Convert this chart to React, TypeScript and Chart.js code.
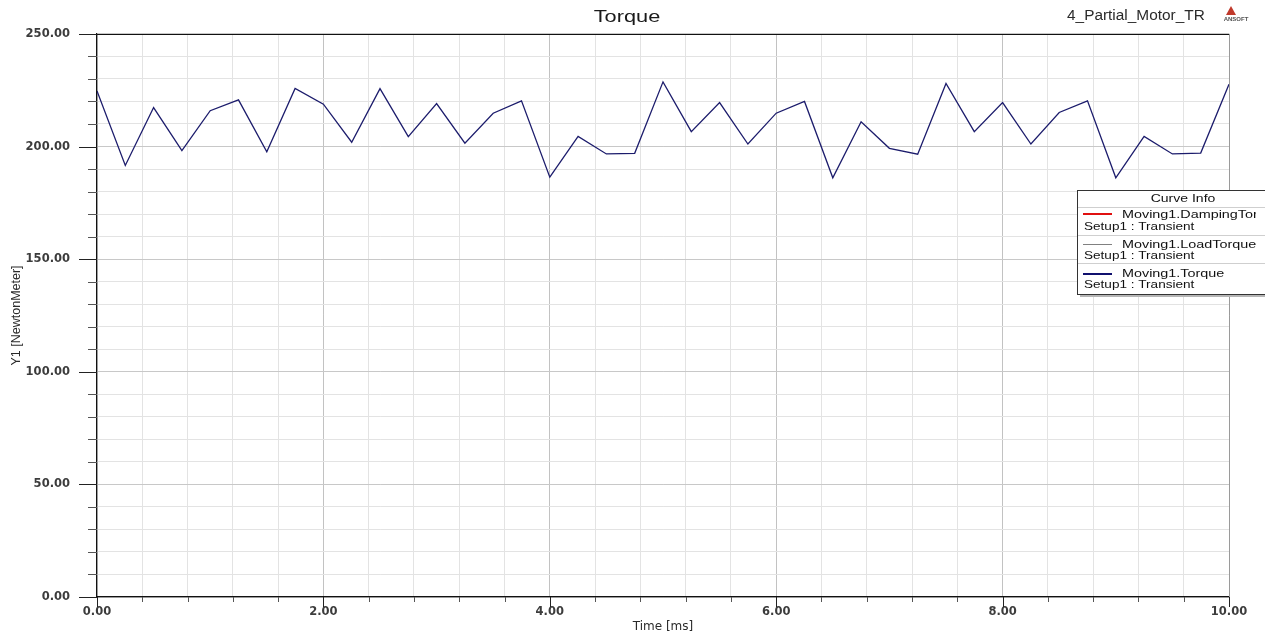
import React, { useEffect, useRef } from 'react';
import { Chart, registerables } from 'chart.js';

Chart.register(...registerables);

// ---------- data ----------
const timeMs = [
  0, 0.25, 0.5, 0.75, 1.0, 1.25, 1.5, 1.75, 2.0, 2.25,
  2.5, 2.75, 3.0, 3.25, 3.5, 3.75, 4.0, 4.25, 4.5, 4.75,
  5.0, 5.25, 5.5, 5.75, 6.0, 6.25, 6.5, 6.75, 7.0, 7.25,
  7.5, 7.75, 8.0, 8.25, 8.5, 8.75, 9.0, 9.25, 9.5, 9.75, 10.0,
];
const torqueNm = [
  224.7, 191.6, 217.3, 198.2, 215.9, 220.7, 197.7, 225.8, 218.8, 201.9,
  225.7, 204.4, 219.1, 201.5, 214.8, 220.3, 186.4, 204.5, 196.7, 197.0,
  228.7, 206.6, 219.5, 201.1, 214.8, 220.0, 186.1, 211.0, 199.2, 196.6,
  228.0, 206.6, 219.5, 201.1, 215.1, 220.3, 186.1, 204.5, 196.7, 197.1, 227.6,
];
const legendNames = ['Moving1.DampingTorque', 'Moving1.LoadTorque', 'Moving1.Torque'];
const legendSetup = 'Setup1 : Transient';
const legendColors = ['#e01010', '#808080', '#10106e'];
const legendWidths = [2, 1, 2];

const chartTitle = 'Torque';
const designName = '4_Partial_Motor_TR';
const xTitle = 'Time [ms]';
const yTitle = 'Y1 [NewtonMeter]';

const xMin = 0, xMax = 10, xMinorStep = 0.4, xMajorStep = 2;
const yMin = 0, yMax = 250, yMinorStep = 10, yMajorStep = 50;

const isMultiple = (v: number, step: number) => Math.abs(v / step - Math.round(v / step)) < 1e-6;

const TICK_FONT = { family: '"DejaVu Sans"', size: 11.5, weight: 'bold' as const };

function stretchText(ctx: CanvasRenderingContext2D, text: string, x: number, y: number, font: string, sx: number, align: CanvasTextAlign, color: string) {
  ctx.save();
  ctx.translate(x, y);
  ctx.scale(sx, 1);
  ctx.font = font;
  ctx.fillStyle = color;
  ctx.textAlign = align;
  ctx.textBaseline = 'alphabetic';
  ctx.fillText(text, 0, 0);
  ctx.restore();
}

const decorPlugin = {
  id: 'decor',
  afterDraw(chart: any) {
    const { ctx, chartArea: a, scales } = chart;
    const xs = scales.x, ys = scales.y;
    ctx.save();
    ctx.lineWidth = 1;
    // top border
    ctx.strokeStyle = '#111';
    ctx.beginPath();
    ctx.moveTo(a.left, Math.round(a.top) + 0.5);
    ctx.lineTo(a.right, Math.round(a.top) + 0.5);
    ctx.stroke();
    // right border
    ctx.strokeStyle = '#9a9a9a';
    ctx.beginPath();
    ctx.moveTo(Math.round(a.right) + 0.5, a.top);
    ctx.lineTo(Math.round(a.right) + 0.5, a.bottom);
    ctx.stroke();
    // y ticks
    ys.ticks.forEach((t: any) => {
      const py = Math.round(ys.getPixelForValue(t.value)) + 0.5;
      const major = isMultiple(t.value, yMajorStep);
      ctx.strokeStyle = major ? '#222' : '#555';
      ctx.beginPath();
      ctx.moveTo(a.left - (major ? 18 : 9), py);
      ctx.lineTo(a.left, py);
      ctx.stroke();
    });
    // x ticks
    xs.ticks.forEach((t: any) => {
      const px = Math.round(xs.getPixelForValue(t.value)) + 0.5;
      const major = isMultiple(t.value, xMajorStep);
      ctx.strokeStyle = major ? '#222' : '#555';
      ctx.beginPath();
      ctx.moveTo(px, a.bottom);
      ctx.lineTo(px, a.bottom + (major ? 10 : 5));
      ctx.stroke();
    });

    // Title and design name
    stretchText(ctx, chartTitle, 627, 22, '17px "Liberation Sans"', 1.28, 'center', '#1a1a1a');
    stretchText(ctx, designName, 1067, 20, '14px "Liberation Sans"', 1.1, 'left', '#2a2a2a');

    // ANSOFT logo
    ctx.fillStyle = '#c0392b';
    ctx.beginPath();
    ctx.moveTo(1231, 6);
    ctx.lineTo(1236, 15);
    ctx.lineTo(1226, 15);
    ctx.closePath();
    ctx.fill();
    stretchText(ctx, 'ANSOFT', 1236, 21, 'bold 5px "Liberation Sans"', 1.2, 'center', '#555');

    // Curve Info legend box
    const bx = 1077, by = 190, bw = 220, bh = 104;
    ctx.fillStyle = '#b5b5b5';
    ctx.fillRect(bx + 3, by + 3, bw, bh);
    ctx.fillStyle = '#ffffff';
    ctx.fillRect(bx, by, bw, bh);
    ctx.strokeStyle = '#333';
    ctx.strokeRect(bx + 0.5, by + 0.5, bw, bh);
    ctx.strokeStyle = '#cfcfcf';
    [207, 235, 263].forEach((sy) => {
      ctx.beginPath();
      ctx.moveTo(bx + 1, sy + 0.5);
      ctx.lineTo(bx + bw, sy + 0.5);
      ctx.stroke();
    });
    const lf = '11.5px "Liberation Sans"';
    stretchText(ctx, 'Curve Info', 1183, 202, lf, 1.22, 'center', '#111');
    const sampleY = [214, 244, 274];
    const nameY = [218, 248, 277];
    const setupY = [230, 259, 288];
    legendNames.forEach((name, i) => {
      ctx.strokeStyle = legendColors[i];
      ctx.lineWidth = legendWidths[i];
      ctx.beginPath();
      ctx.moveTo(1083, sampleY[i] + (legendWidths[i] === 1 ? 0.5 : 0));
      ctx.lineTo(1112, sampleY[i] + (legendWidths[i] === 1 ? 0.5 : 0));
      ctx.stroke();
      ctx.save();
      ctx.beginPath();
      ctx.rect(bx, by, 179, bh);
      ctx.clip();
      stretchText(ctx, name, 1122, nameY[i], lf, 1.25, 'left', '#111');
      ctx.restore();
      stretchText(ctx, legendSetup, 1084, setupY[i], lf, 1.18, 'left', '#111');
    });
    ctx.restore();
  },
};

export default function App() {
  const canvasRef = useRef<HTMLCanvasElement | null>(null);

  useEffect(() => {
    document.body.style.margin = '0';
    const canvas = canvasRef.current;
    if (!canvas) return;
    const chart = new Chart(canvas, {
      type: 'line',
      data: {
        datasets: [
          {
            label: legendNames[2],
            data: timeMs.map((t, i) => ({ x: t, y: torqueNm[i] })),
            borderColor: '#1c1c6c',
            borderWidth: 1.3,
            pointRadius: 0,
            tension: 0,
            fill: false,
          },
        ],
      },
      options: {
        animation: false,
        responsive: false,
        layout: { padding: { left: 0, top: 31, right: 36, bottom: 0 } },
        plugins: {
          legend: { display: false },
          title: { display: false },
          tooltip: { enabled: false },
        },
        scales: {
          x: {
            type: 'linear',
            min: xMin,
            max: xMax,
            afterFit: (s: any) => { s.height = 41; },
            ticks: {
              stepSize: xMinorStep,
              autoSkip: false,
              maxRotation: 0,
              padding: 8,
              color: '#3c3c3c',
              font: TICK_FONT,
              callback: (v: any) => (isMultiple(Number(v), xMajorStep) ? Number(v).toFixed(2) : ''),
            },
            grid: {
              drawTicks: false,
              color: (c: any) => (c.tick && isMultiple(c.tick.value, xMajorStep) ? '#c2c2c2' : '#e3e3e3'),
              lineWidth: 1,
            },
            border: { display: true, color: '#111', width: 1.2 },
            title: {
              display: true,
              text: xTitle,
              color: '#2a2a2a',
              font: { family: '"DejaVu Sans"', size: 12 },
              padding: { top: 0, bottom: 4 },
            },
          },
          y: {
            type: 'linear',
            min: yMin,
            max: yMax,
            afterFit: (s: any) => { s.width = 97; },
            ticks: {
              stepSize: yMinorStep,
              autoSkip: false,
              padding: 27,
              color: '#3c3c3c',
              font: TICK_FONT,
              callback: (v: any) => (isMultiple(Number(v), yMajorStep) ? Number(v).toFixed(2) : ''),
            },
            grid: {
              drawTicks: false,
              color: (c: any) => (c.tick && isMultiple(c.tick.value, yMajorStep) ? '#c8c8c8' : '#e3e3e3'),
              lineWidth: 1,
            },
            border: { display: true, color: '#111', width: 1.2 },
            title: {
              display: true,
              text: yTitle,
              color: '#2a2a2a',
              font: { family: '"Liberation Sans"', size: 12.5 },
              padding: { top: 9, bottom: 0 },
            },
          },
        },
      },
      plugins: [decorPlugin],
    });
    return () => chart.destroy();
  }, []);

  return (
    <div style={{ width: 1265, height: 638, position: 'relative', background: '#fff' }}>
      <canvas ref={canvasRef} width={1265} height={638} style={{ display: 'block' }} />
    </div>
  );
}
